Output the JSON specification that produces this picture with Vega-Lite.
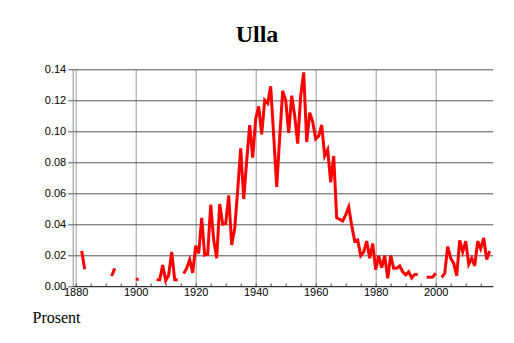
{
  "$schema": "https://vega.github.io/schema/vega-lite/v6.json",
  "autosize": {"type": "none"},
  "padding": {"left": 72.7, "top": 69.3, "right": 21.3, "bottom": 57},
  "width": 420,
  "height": 216.7,
  "background": "white",
  "title": {"text": "Ulla", "font": "Liberation Serif", "fontSize": 24, "fontWeight": "bold", "color": "black", "anchor": "middle", "frame": "group", "dx": -25.7, "dy": 28, "offset": 25, "baseline": "alphabetic"},
  "data": {"values": [
    {"year": 1882, "share": 0.0226}, {"year": 1883, "share": 0.0108}, {"year": 1884, "share": null},
    {"year": 1892, "share": 0.0065}, {"year": 1893, "share": 0.0114}, {"year": 1894, "share": null},
    {"year": 1900, "share": 0.0043}, {"year": 1901, "share": 0.0043}, {"year": 1902, "share": null},
    {"year": 1907, "share": 0.004}, {"year": 1908, "share": 0.004}, {"year": 1909, "share": 0.0135}, {"year": 1910, "share": 0.0035},
    {"year": 1911, "share": 0.0071}, {"year": 1912, "share": 0.022}, {"year": 1913, "share": 0.004}, {"year": 1914, "share": 0.004},
    {"year": 1915, "share": null},
    {"year": 1916, "share": 0.008}, {"year": 1917, "share": 0.0115}, {"year": 1918, "share": 0.017}, {"year": 1919, "share": 0.0085},
    {"year": 1920, "share": 0.026}, {"year": 1921, "share": 0.021}, {"year": 1922, "share": 0.044}, {"year": 1923, "share": 0.02},
    {"year": 1924, "share": 0.0206}, {"year": 1925, "share": 0.0525}, {"year": 1926, "share": 0.0297}, {"year": 1927, "share": 0.018},
    {"year": 1928, "share": 0.053}, {"year": 1929, "share": 0.04}, {"year": 1930, "share": 0.0404}, {"year": 1931, "share": 0.0585},
    {"year": 1932, "share": 0.0265}, {"year": 1933, "share": 0.0372}, {"year": 1934, "share": 0.062}, {"year": 1935, "share": 0.089},
    {"year": 1936, "share": 0.0562}, {"year": 1937, "share": 0.081}, {"year": 1938, "share": 0.104}, {"year": 1939, "share": 0.083},
    {"year": 1940, "share": 0.108}, {"year": 1941, "share": 0.116}, {"year": 1942, "share": 0.098}, {"year": 1943, "share": 0.12},
    {"year": 1944, "share": 0.118}, {"year": 1945, "share": 0.129}, {"year": 1946, "share": 0.097}, {"year": 1947, "share": 0.064},
    {"year": 1948, "share": 0.096}, {"year": 1949, "share": 0.126}, {"year": 1950, "share": 0.12}, {"year": 1951, "share": 0.099},
    {"year": 1952, "share": 0.123}, {"year": 1953, "share": 0.11}, {"year": 1954, "share": 0.092}, {"year": 1955, "share": 0.123},
    {"year": 1956, "share": 0.138}, {"year": 1957, "share": 0.093}, {"year": 1958, "share": 0.112}, {"year": 1959, "share": 0.106},
    {"year": 1960, "share": 0.095}, {"year": 1961, "share": 0.097}, {"year": 1962, "share": 0.104}, {"year": 1963, "share": 0.084},
    {"year": 1964, "share": 0.088}, {"year": 1965, "share": 0.067}, {"year": 1966, "share": 0.084}, {"year": 1967, "share": 0.044},
    {"year": 1968, "share": 0.043}, {"year": 1969, "share": 0.042}, {"year": 1970, "share": 0.046}, {"year": 1971, "share": 0.051},
    {"year": 1972, "share": 0.039}, {"year": 1973, "share": 0.029}, {"year": 1974, "share": 0.0297}, {"year": 1975, "share": 0.0195},
    {"year": 1976, "share": 0.022}, {"year": 1977, "share": 0.029}, {"year": 1978, "share": 0.018}, {"year": 1979, "share": 0.0275},
    {"year": 1980, "share": 0.0105}, {"year": 1981, "share": 0.0195}, {"year": 1982, "share": 0.0118}, {"year": 1983, "share": 0.0195},
    {"year": 1984, "share": 0.005}, {"year": 1985, "share": 0.0198}, {"year": 1986, "share": 0.0114}, {"year": 1987, "share": 0.0114},
    {"year": 1988, "share": 0.013}, {"year": 1989, "share": 0.0092}, {"year": 1990, "share": 0.0072}, {"year": 1991, "share": 0.0092},
    {"year": 1992, "share": 0.0052}, {"year": 1993, "share": 0.0075}, {"year": 1994, "share": 0.0075},
    {"year": 1995, "share": null}, {"year": 1996, "share": null},
    {"year": 1997, "share": 0.0056}, {"year": 1998, "share": 0.0056}, {"year": 1999, "share": 0.0058}, {"year": 2000, "share": 0.0083},
    {"year": 2001, "share": null},
    {"year": 2002, "share": 0.0056}, {"year": 2003, "share": 0.0082}, {"year": 2004, "share": 0.0255}, {"year": 2005, "share": 0.018},
    {"year": 2006, "share": 0.0146}, {"year": 2007, "share": 0.0065}, {"year": 2008, "share": 0.0295}, {"year": 2009, "share": 0.0221},
    {"year": 2010, "share": 0.029}, {"year": 2011, "share": 0.014}, {"year": 2012, "share": 0.018}, {"year": 2013, "share": 0.013},
    {"year": 2014, "share": 0.029}, {"year": 2015, "share": 0.024}, {"year": 2016, "share": 0.031}, {"year": 2017, "share": 0.0172},
    {"year": 2018, "share": 0.0226}
  ]},
  "mark": {"type": "line", "color": "#ff0000", "strokeWidth": 3, "invalid": "break-paths-filter-domains"},
  "encoding": {
    "x": {
      "field": "year", "type": "quantitative",
      "scale": {"domain": [1879, 2019], "nice": false, "zero": false},
      "axis": {
        "values": [1880,1885,1890,1895,1900,1905,1910,1915,1920,1925,1930,1935,1940,1945,1950,1955,1960,1965,1970,1975,1980,1985,1990,1995,2000,2005,2010,2015],
        "format": "d",
        "labelExpr": "datum.value % 20 === 0 ? datum.label : ''",
        "labelOverlap": false,
        "labelFlush": false,
        "grid": true,
        "gridColor": "#999999",
        "gridOpacity": {"condition": {"test": "datum.value % 20 === 0", "value": 1}, "value": 0},
        "tickSize": -3,
        "tickColor": "#444444",
        "domainColor": "#333333",
        "labelFont": "Liberation Sans",
        "labelFontSize": 11,
        "labelColor": "black",
        "labelPadding": 3,
        "title": "Prosent",
        "titleFont": "Liberation Serif",
        "titleFontSize": 16,
        "titleFontWeight": "normal",
        "titleColor": "black",
        "titleAlign": "left",
        "titleX": -40.7,
        "titleY": 36.5,
        "titleBaseline": "alphabetic"
      }
    },
    "y": {
      "field": "share", "type": "quantitative",
      "scale": {"domain": [0, 0.14], "nice": false},
      "axis": {
        "values": [0, 0.02, 0.04, 0.06, 0.08, 0.1, 0.12, 0.14],
        "format": ".2f",
        "grid": true,
        "gridColor": "#555555",
        "tickSize": 5,
        "tickColor": "#555555",
        "domainColor": "#888888",
        "labelFont": "Liberation Sans",
        "labelFontSize": 11,
        "labelColor": "black",
        "labelPadding": 2,
        "title": null
      }
    }
  },
  "config": {"view": {"stroke": null}}
}
